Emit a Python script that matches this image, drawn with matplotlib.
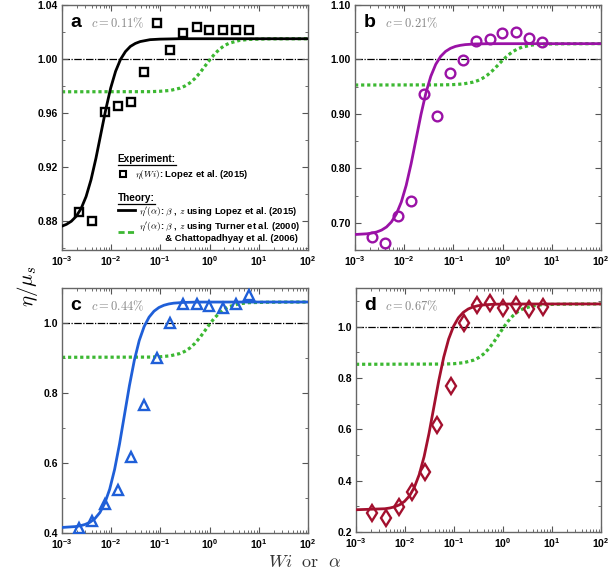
import numpy as np
import matplotlib.pyplot as plt
from matplotlib.lines import Line2D
from matplotlib.ticker import MultipleLocator, FormatStrFormatter, LogLocator, NullFormatter

plt.rcParams['font.family'] = ['Liberation Sans', 'DejaVu Sans']
plt.rcParams['mathtext.fontset'] = 'cm'

# measured Weissenberg numbers (same for all panels)
wi = [2.17e-3, 4.1e-3, 7.4e-3, 1.39e-2, 2.52e-2, 4.55e-2, 8.5e-2, 0.16, 0.29, 0.55, 0.99, 1.86, 3.44, 6.45]

eta_a = [0.887, 0.880, 0.961, 0.965, 0.968, 0.990, 1.0266, 1.0069, 1.0192, 1.024, 1.0213, 1.0213, 1.0213, 1.0213]
eta_b = [0.674, 0.662, 0.713, 0.740, 0.937, 0.897, 0.975, 0.999, 1.034, 1.038, 1.048, 1.051, 1.039, 1.032]
eta_c = [0.413, 0.434, 0.484, 0.524, 0.616, 0.766, 0.900, 1.000, 1.055, 1.055, 1.048, 1.042, 1.055, 1.080]
eta_d = [0.274, 0.253, 0.298, 0.357, 0.435, 0.617, 0.770, 1.015, 1.084, 1.093, 1.074, 1.084, 1.068, 1.076]

# theory curves (log10 alpha, eta')
lg_a = [-3.0, -2.91, -2.81, -2.71, -2.61, -2.51, -2.41, -2.31, -2.21, -2.11, -2.01, -1.91, -1.81,
        -1.71, -1.61, -1.51, -1.41, -1.21, -1.01, -0.61, 2.0]
th_a = [0.8762, 0.8775, 0.8798, 0.8835, 0.8893, 0.8981, 0.9105, 0.9264, 0.9445, 0.9626, 0.9785,
        0.9909, 0.9997, 1.0055, 1.0093, 1.0115, 1.0129, 1.0143, 1.0147, 1.0150, 1.015]
lg_b = [-3.0, -2.76, -2.66, -2.56, -2.46, -2.36, -2.26, -2.16, -2.06, -1.96, -1.86, -1.76, -1.66,
        -1.56, -1.46, -1.36, -1.26, -1.16, -1.06, -0.96, -0.86, -0.76, -0.56, -0.26, 2.0]
th_b = [0.6785, 0.6798, 0.6811, 0.6831, 0.6866, 0.6923, 0.7016, 0.7161, 0.7380, 0.7688, 0.8084,
        0.8535, 0.8986, 0.9382, 0.9690, 0.9909, 1.0055, 1.0147, 1.0204, 1.0239, 1.0259, 1.0272,
        1.0284, 1.0289, 1.029]
lg_c = [-3.0, -2.73, -2.63, -2.53, -2.43, -2.33, -2.23, -2.13, -2.03, -1.93, -1.83, -1.73, -1.63,
        -1.53, -1.43, -1.33, -1.23, -1.13, -1.03, -0.93, -0.83, -0.73, -0.53, -0.23, 2.0]
th_c = [0.4158, 0.4183, 0.4206, 0.4244, 0.4308, 0.4413, 0.4583, 0.4851, 0.5252, 0.5819, 0.6546,
        0.7375, 0.8204, 0.8931, 0.9498, 0.9899, 1.0167, 1.0337, 1.0442, 1.0506, 1.0544, 1.0567,
        1.0588, 1.0598, 1.060]
lg_d = [-3.0, -2.41, -2.31, -2.21, -2.11, -2.01, -1.91, -1.81, -1.71, -1.61, -1.51, -1.41, -1.31,
        -1.21, -1.11, -1.01, -0.91, -0.81, -0.71, -0.61, -0.51, -0.41, -0.21, 0.09, 2.0]
th_d = [0.2867, 0.2906, 0.2935, 0.2982, 0.3062, 0.3192, 0.3403, 0.3736, 0.4235, 0.4939, 0.5842,
        0.6873, 0.7903, 0.8806, 0.9510, 1.0009, 1.0342, 1.0553, 1.0684, 1.0763, 1.0810, 1.0839,
        1.0866, 1.0877, 1.088]

# green curves (Turner / Chattopadhyay parameters)
lg_g = [-3.0, -1.2, -1.0, -0.8, -0.6, -0.5, -0.4, -0.3, -0.2, -0.1, 0.0, 0.1, 0.2, 0.3, 0.4,
        0.6, 0.8, 1.2, 2.0]
gr_a = [0.9757, 0.9758, 0.9761, 0.9767, 0.9784, 0.9800, 0.9823, 0.9855, 0.9896, 0.9944, 0.9992,
        1.0036, 1.0072, 1.0099, 1.0117, 1.0137, 1.0145, 1.0149, 1.0150]
gr_b = [0.953, 0.9533, 0.9538, 0.9550, 0.9583, 0.9613, 0.9658, 0.9720, 0.9799, 0.9891, 0.9985,
        1.0070, 1.0140, 1.0191, 1.0227, 1.0265, 1.0281, 1.0287, 1.029]
gr_c = [0.902, 0.9026, 0.9036, 0.9062, 0.9129, 0.9192, 0.9285, 0.9415, 0.9580, 0.9771, 0.9966,
        1.0143, 1.0287, 1.0394, 1.0469, 1.0549, 1.0581, 1.0594, 1.060]
gr_d = [0.853, 0.8539, 0.8553, 0.8593, 0.8692, 0.8786, 0.8925, 0.9117, 0.9363, 0.9646, 0.9937,
        1.0201, 1.0415, 1.0574, 1.0684, 1.0804, 1.0852, 1.0871, 1.088]

labels = ['a', 'b', 'c', 'd']
concs = ['0.11', '0.21', '0.44', '0.67']
colors = ['black', '#9a12a6', '#1f5fd8', '#a3102e']
markers = ['s', 'o', '^', 'd']
msizes = [6, 7, 7.5, 8.5]
green = '#3cb832'

panels = [
    (eta_a, lg_a, th_a, gr_a, (0.8585, 1.04), 0.04, 0.02, '%.2f'),
    (eta_b, lg_b, th_b, gr_b, (0.65, 1.10), 0.10, 0.05, '%.2f'),
    (eta_c, lg_c, th_c, gr_c, (0.40, 1.10), 0.2, 0.1, '%.1f'),
    (eta_d, lg_d, th_d, gr_d, (0.20, 1.15), 0.2, 0.1, '%.1f'),
]
rects = [
    [0.1016, 0.5629, 0.4033, 0.4284],
    [0.5820, 0.5629, 0.4033, 0.4284],
    [0.1016, 0.0682, 0.4033, 0.4283],
    [0.5836, 0.0699, 0.4017, 0.4266],
]

fig = plt.figure(figsize=(6.1, 5.72), dpi=100)
axes = []
for i, (eta, lg, th, gr, ylim, major, minor, fmt) in enumerate(panels):
    ax = fig.add_axes(rects[i])
    axes.append(ax)
    ax.axhline(1.0, color='black', lw=0.9, ls=(0, (6, 1.2, 1, 1.2)), zorder=1)
    ax.plot(10 ** np.array(lg_g), gr, color=green, lw=2.3, ls=(0, (1, 0.9)), zorder=2)
    ax.plot(10 ** np.array(lg), th, color=colors[i], lw=2.0, zorder=3)
    ax.plot(wi, eta, ls='none', marker=markers[i], ms=msizes[i], mfc='none',
            mec=colors[i], mew=1.7, zorder=4)
    ax.set_xscale('log')
    ax.set_xlim(1e-3, 1e2)
    ax.set_ylim(*ylim)
    ax.yaxis.set_major_locator(MultipleLocator(major))
    ax.yaxis.set_minor_locator(MultipleLocator(minor))
    ax.yaxis.set_major_formatter(FormatStrFormatter(fmt))
    ax.xaxis.set_major_locator(LogLocator(base=10, numticks=10))
    ax.xaxis.set_minor_locator(LogLocator(base=10, subs=np.arange(2, 10), numticks=20))
    ax.xaxis.set_minor_formatter(NullFormatter())
    ax.tick_params(which='both', direction='in', top=True, right=True, color='#555555')
    ax.tick_params(which='major', length=4, width=0.8, labelsize=7.5, pad=3)
    ax.tick_params(which='minor', length=2, width=0.6)
    for lab in ax.get_xticklabels() + ax.get_yticklabels():
        lab.set_fontweight('bold')
    for sp in ax.spines.values():
        sp.set_color('#666666')
        sp.set_linewidth(1.0)
    ax.text(0.035, 0.965, labels[i], transform=ax.transAxes, fontsize=14, fontweight='bold',
            va='top', ha='left')
    ax.text(0.12, 0.955, r'$c = %s\%%$' % concs[i], transform=ax.transAxes, fontsize=9,
            color='#888888', va='top', ha='left')

# legend in panel a
ax = axes[0]
lp = {'family': 'Liberation Sans', 'weight': 'bold', 'size': 6.8}
tp = {'family': 'Liberation Sans', 'weight': 'bold', 'size': 7.2}
h_exp = [Line2D([], [], ls='none', marker='s', ms=5, mfc='none', mec='black', mew=1.5)]
leg1 = ax.legend(h_exp, [r'$\eta(Wi)$: Lopez et al. (2015)'], loc='lower left',
                 bbox_to_anchor=(0.2, 0.255), frameon=False, prop=lp, title='Experiment:',
                 title_fontproperties=tp, alignment='left', handlelength=1.2,
                 handletextpad=0.6, borderpad=0.2)
ax.add_artist(leg1)
h_th = [Line2D([], [], color='black', lw=2),
        Line2D([], [], color=green, lw=2, ls=(0, (2.2, 1.2)))]
leg2 = ax.legend(h_th, [r"$\eta'(\alpha)$: $\beta$ , $z$ using Lopez et al. (2015)",
                        r"$\eta'(\alpha)$: $\beta$ , $z$ using Turner et al. (2000)" + "\n"
                        + "          & Chattopadhyay et al. (2006)"],
                 loc='lower left', bbox_to_anchor=(0.2, 0.0), frameon=False, prop=lp,
                 title='Theory:', title_fontproperties=tp, alignment='left',
                 handlelength=1.8, handletextpad=0.4, borderpad=0.2, labelspacing=0.3)

fig.text(0.045, 0.5, r'$\eta/\mu_s$', rotation=90, fontsize=15, ha='center', va='center')
fig.text(0.5, 0.016, r'$Wi\ \ \mathrm{or}\ \ \alpha$', fontsize=13, ha='center', va='center',
         color='#333333')

# underline the legend headers
fig.canvas.draw()
inv = fig.transFigure.inverted()
for lg in (leg1, leg2):
    bb = lg.get_title().get_window_extent()
    (x0, y0), (x1, y1) = inv.transform([[bb.x0, bb.y0], [bb.x1, bb.y1]])
    fig.add_artist(Line2D([x0, x1], [y0 - 0.002, y0 - 0.002], color='black', lw=0.9,
                          transform=fig.transFigure))

fig.savefig('out.png', dpi=100)
